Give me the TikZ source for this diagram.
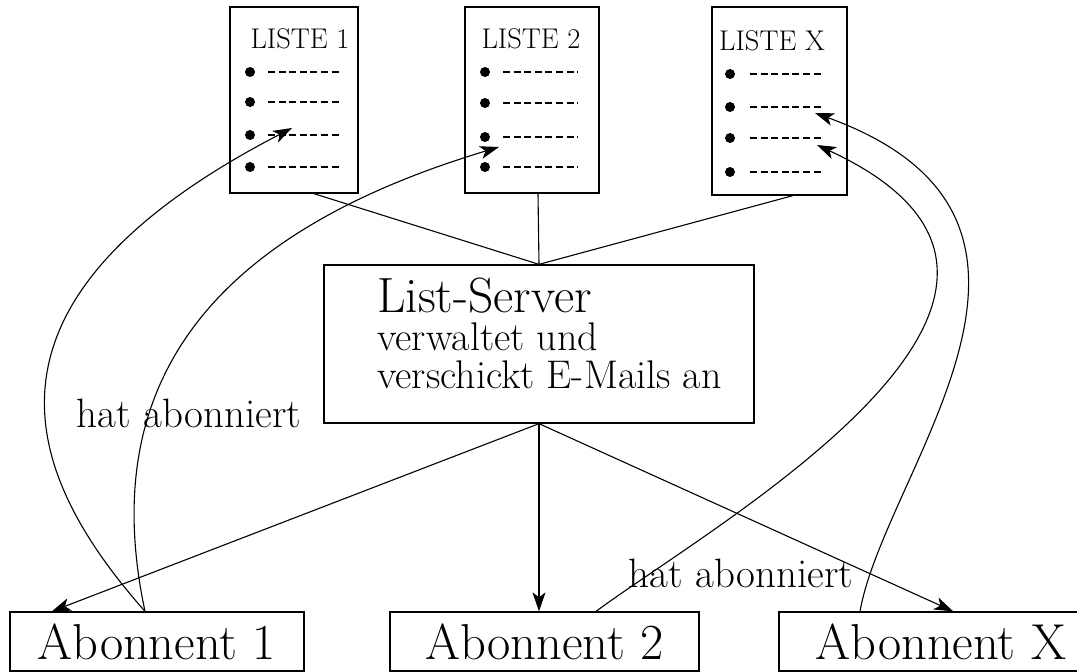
\documentclass[tikz,border=0pt]{standalone}
\usetikzlibrary{arrows.meta}
\begin{document}
\begin{tikzpicture}[x=1pt,y=-1pt,
  box/.style={draw, line width=1.3pt, inner sep=0pt},
  conn/.style={line width=1.1pt},
  arr/.style={conn, -{Stealth[length=19pt,width=13pt,inset=5pt]}},
  dashrow/.style={line width=2.2pt, dash pattern=on 7pt off 3.6pt},
  ttl/.style={font=\fontsize{28.5}{28.5}\selectfont, anchor=base, inner sep=0pt},
  big/.style={font=\fontsize{49.5}{49.5}\selectfont, anchor=base west, inner sep=0pt},
  mid/.style={font=\fontsize{40}{40}\selectfont, anchor=base west, inner sep=0pt},
  lab/.style={font=\fontsize{41}{41}\selectfont, anchor=base, inner sep=0pt},
  abo/.style={box, minimum height=59pt, font=\fontsize{50.5}{50.5}\selectfont}]
\useasboundingbox (0,0) rectangle (1077,672);

% list boxes
\node[box, minimum width=128pt, minimum height=186pt] (l1) at (294,100) {};
\node[box, minimum width=134pt, minimum height=186pt] (l2) at (532,100) {};
\node[box, minimum width=135pt, minimum height=188pt] (lx) at (779.5,101) {};
\node[ttl] (l1t) at (300,48) {LISTE 1};
\node[ttl] (l2t) at (531,48) {LISTE 2};
\node[ttl] (lxt) at (772,50) {LISTE X};

% bullets and dashes
\foreach \y in {72,102,135,167} {
  \fill (250,\y) circle (5pt);
  \draw[dashrow] (268,\y) -- (342,\y);
}
\foreach \y in {72,103,137,167} {
  \fill (485,\y) circle (5pt);
  \draw[dashrow] (503,\y) -- (578,\y);
}
\foreach \y in {74,107,138,172} {
  \fill (730,\y) circle (5pt);
  \draw[dashrow] (750,\y) -- (823,\y);
}

% server
\node[box, minimum width=430pt, minimum height=158pt] (srv) at (539,344) {};
\node[big] (srv1) at (377,312) {List-Server};
\node[mid] (srv2) at (377,350) {verwaltet und};
\node[mid] (srv3) at (377,388) {verschickt E-Mails an};

% subscribers
\node[abo, minimum width=294pt] (a1) at (157,641.5) {Abonnent 1};
\node[abo, minimum width=309pt] (a2) at (544.5,641.5) {Abonnent 2};
\node[abo, minimum width=324pt] (aX) at (941,641.5) {Abonnent X};

% arrow targets inside the lists
\coordinate (t1) at (292,128);
\coordinate (t2) at (499,147);
\coordinate (tx2) at (815,113);
\coordinate (tx3) at (817,145);

% lists to server
\draw[conn] (l1.-78) -- (srv.north);
\draw[conn] ([xshift=6pt]l2.south) -- (srv.north);
\draw[conn] (lx.-82) -- (srv.north);

% server to subscribers
\draw[arr] (srv.south) -- (a1.164);
\draw[arr] (srv.south) -- (srv.south |- a2.north);
\draw[arr] (srv.south) -- (aX.68);

% subscriptions
\draw[arr] ([xshift=-12pt]a1.north) .. controls (20,470) and (-40,300) .. (t1);
\draw[arr] ([xshift=-12pt]a1.north) .. controls (100,400) and (190,240) .. (t2);
\draw[arr] ([xshift=51.5pt]a2.north) .. controls (720,520) and (1130,290) .. (tx3);
\draw[arr] ([xshift=-81pt]aX.north) .. controls (885,470) and (1110,220) .. (tx2);

% labels
\node[lab] (lab1) at (189,427) {hat abonniert};
\node[lab] (lab2) at (741,587) {hat abonniert};
\end{tikzpicture}
\end{document}
